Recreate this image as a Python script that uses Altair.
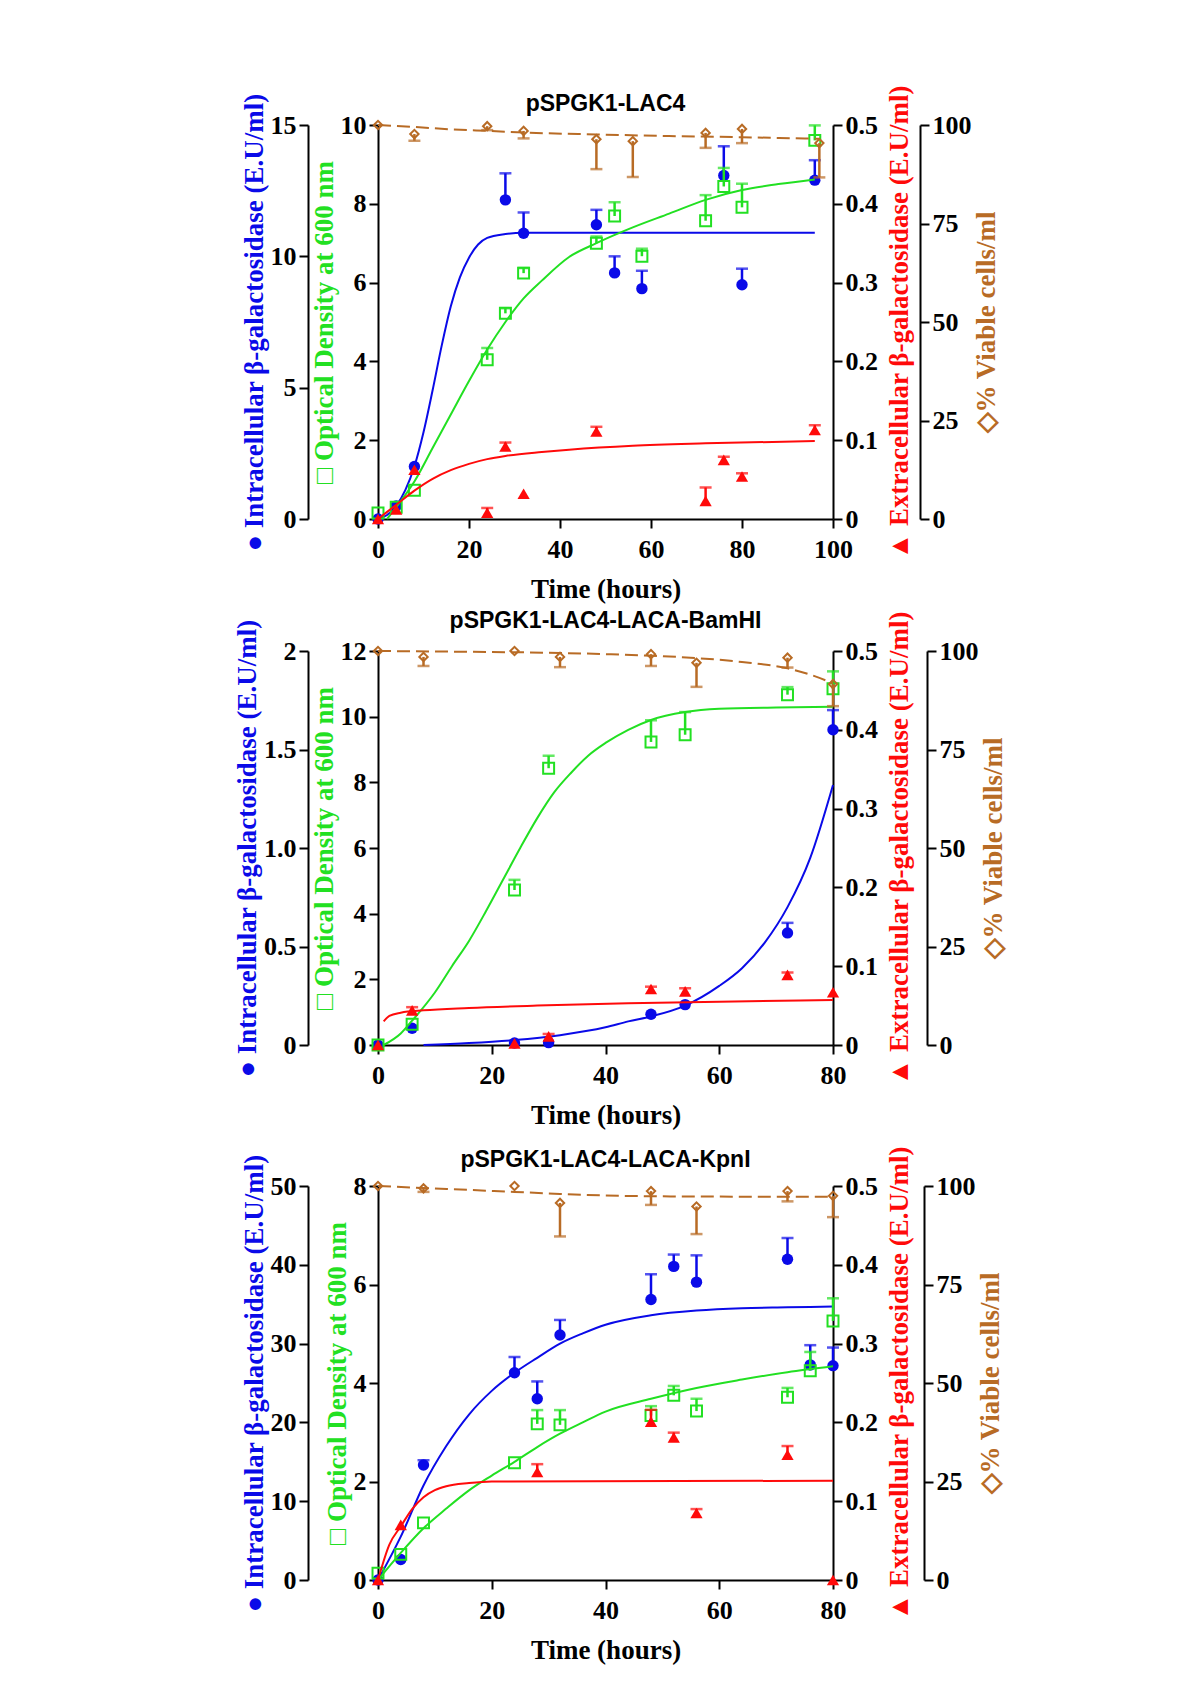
import altair as alt
import pandas as pd

# ---------------- Panel 1: pSPGK1-LAC4 ----------------
P1_TITLE = "pSPGK1-LAC4"
P1_XMAX = 100
P1_X_TICKS = [0, 20, 40, 60, 80, 100]
P1_BLUE_TICKS = [0, 5, 10, 15]
P1_GREEN_TICKS = [0, 2, 4, 6, 8, 10]

P1_BLUE_T = [0, 4, 8, 28, 32, 48, 52, 58, 76, 80, 96]
P1_BLUE = [0, 0.5, 2.0, 12.15, 10.88, 11.2, 9.37, 8.77, 13.08, 8.92, 12.9]
P1_BLUE_ERR = [None, None, None, 13.16, 11.67, 11.77, 10.0, 9.45, 14.19, 9.53, 13.66]
P1_BLUE_CT = [0, 2, 4, 6, 8, 10, 12, 14, 16, 18, 20, 22, 24, 28, 32, 96]
P1_BLUE_C = [0, 0.15, 0.5, 1.1, 2.0, 3.3, 4.9, 6.6, 8.1, 9.2, 9.95, 10.45, 10.7, 10.85, 10.9, 10.9]

P1_GREEN_T = [0, 4, 8, 24, 28, 32, 48, 52, 58, 72, 76, 80, 96]
P1_GREEN = [0.15, 0.3, 0.73, 4.04, 5.22, 6.24, 7.0, 7.69, 6.67, 7.57, 8.44, 7.91, 9.61]
P1_GREEN_ERR = [None, None, None, 4.34, 5.35, 6.37, 7.17, 8.04, 6.86, 8.22, 8.91, 8.51, 9.99]
P1_GREEN_CT = [2, 4, 8, 12, 16, 20, 24, 28, 32, 36, 42, 48, 56, 64, 72, 80, 88, 96]
P1_GREEN_C = [0, 0.3, 0.95, 1.8, 2.65, 3.5, 4.3, 5.0, 5.6, 6.05, 6.65, 7.0, 7.4, 7.75, 8.1, 8.35, 8.5, 8.62]

P1_RED_T = [0, 4, 8, 24, 28, 32, 48, 72, 76, 80, 96]
P1_RED = [0, 0.012, 0.0625, 0.008, 0.092, 0.032, 0.111, 0.023, 0.075, 0.054, 0.113]
P1_RED_ERR = [None, None, None, 0.014, 0.097, None, 0.117, 0.040, 0.079, 0.058, 0.119]
P1_RED_CT = [0, 4, 8, 12, 16, 20, 24, 28, 36, 42, 56, 72, 96]
P1_RED_C = [0, 0.018, 0.036, 0.051, 0.062, 0.07, 0.076, 0.08, 0.085, 0.088, 0.093, 0.096, 0.099]

P1_BROWN_T = [0, 8, 24, 32, 48, 56, 72, 80, 97]
P1_BROWN = [100, 97.7, 99.7, 98.5, 96.4, 95.9, 98.0, 99.0, 95.4]
P1_BROWN_ERR = [None, 96.0, 98.7, 96.6, 88.8, 86.8, 94.2, 95.4, 86.7]
P1_BROWN_CT = [0, 8, 16, 24, 32, 48, 64, 80, 97]
P1_BROWN_C = [100, 99.5, 98.9, 98.5, 98.1, 97.6, 97.2, 96.9, 96.5]

# ---------------- Panel 2: pSPGK1-LAC4-LACA-BamHI ----------------
P2_TITLE = "pSPGK1-LAC4-LACA-BamHI"
P2_XMAX = 80
P2_X_TICKS = [0, 20, 40, 60, 80]
P2_BLUE_TICKS = [0, 0.5, 1.0, 1.5, 2]
P2_GREEN_TICKS = [0, 2, 4, 6, 8, 10, 12]

P2_BLUE_T = [0, 6, 24, 30, 48, 54, 72, 80]
P2_BLUE = [0, 0.085, 0.01, 0.012, 0.156, 0.205, 0.569, 1.60]
P2_BLUE_ERR = [None, None, None, None, None, None, 0.62, 1.70]
P2_BLUE_CT = [8, 16, 24, 32, 40, 44, 48, 54, 60, 64, 68, 72, 76, 80]
P2_BLUE_C = [0, 0.01, 0.025, 0.05, 0.09, 0.12, 0.145, 0.2, 0.3, 0.39, 0.52, 0.7, 0.95, 1.32]

P2_GREEN_T = [0, 6, 24, 30, 48, 54, 72, 80]
P2_GREEN = [0, 0.63, 4.72, 8.43, 9.23, 9.45, 10.67, 10.85]
P2_GREEN_ERR = [None, None, 5.03, 8.81, 9.89, 10.14, 10.9, 11.38]
P2_GREEN_CT = [1, 4, 6, 10, 13, 16, 19, 22, 25, 28, 31, 34, 37, 40, 44, 48, 54, 60, 70, 80]
P2_GREEN_C = [0, 0.35, 0.74, 1.6, 2.4, 3.17, 4.08, 5.04, 6.0, 6.91, 7.7, 8.3, 8.82, 9.2, 9.6, 9.9, 10.14, 10.24, 10.28, 10.3]

P2_RED_T = [0, 6, 24, 30, 48, 54, 72, 80]
P2_RED = [0, 0.044, 0.002, 0.011, 0.071, 0.068, 0.089, 0.067]
P2_RED_ERR = [None, 0.048, None, 0.014, 0.074, 0.072, 0.092, None]
P2_RED_CT = [1, 2, 4, 8, 16, 28, 44, 60, 80]
P2_RED_C = [0.03, 0.037, 0.041, 0.044, 0.047, 0.05, 0.053, 0.055, 0.057]

P2_BROWN_T = [0, 8, 24, 32, 48, 56, 72, 80]
P2_BROWN = [100, 98.5, 100, 98.5, 99.2, 97.0, 98.3, 91.6]
P2_BROWN_ERR = [None, 96.2, None, 95.9, 96.2, 90.9, 95.8, 86.0]
P2_BROWN_CT = [0, 16, 32, 40, 48, 56, 64, 72, 76, 80]
P2_BROWN_C = [100, 99.8, 99.5, 99.2, 98.8, 98.2, 97.2, 95.6, 94.0, 91.8]

# ---------------- Panel 3: pSPGK1-LAC4-LACA-KpnI ----------------
P3_TITLE = "pSPGK1-LAC4-LACA-KpnI"
P3_XMAX = 80
P3_X_TICKS = [0, 20, 40, 60, 80]
P3_BLUE_TICKS = [0, 10, 20, 30, 40, 50]
P3_GREEN_TICKS = [0, 2, 4, 6, 8]

P3_BLUE_T = [0, 4, 8, 24, 28, 32, 48, 52, 56, 72, 76, 80]
P3_BLUE = [0, 2.6, 14.6, 26.3, 23.0, 31.1, 35.6, 39.8, 37.8, 40.7, 27.3, 27.2]
P3_BLUE_ERR = [None, None, 15.2, 28.3, 25.2, 33.0, 38.8, 41.3, 41.2, 43.4, 29.8, 29.5]
P3_BLUE_CT = [0, 4, 8, 12, 16, 20, 24, 28, 32, 36, 40, 48, 56, 64, 72, 80]
P3_BLUE_C = [0, 5.5, 12.0, 17.0, 21.0, 24.0, 26.3, 28.2, 30.0, 31.3, 32.4, 33.6, 34.2, 34.5, 34.6, 34.7]

P3_GREEN_T = [0, 4, 8, 24, 28, 32, 48, 52, 56, 72, 76, 80]
P3_GREEN = [0.14, 0.52, 1.16, 2.38, 3.17, 3.15, 3.34, 3.75, 3.43, 3.71, 4.25, 5.26]
P3_GREEN_ERR = [None, None, None, None, 3.45, 3.45, 3.53, 3.94, 3.68, 3.90, 4.63, 5.72]
P3_GREEN_CT = [0, 4, 8, 12, 16, 20, 24, 28, 32, 36, 40, 48, 56, 64, 72, 80]
P3_GREEN_C = [0, 0.55, 1.05, 1.45, 1.82, 2.12, 2.4, 2.7, 2.97, 3.2, 3.42, 3.68, 3.9, 4.07, 4.22, 4.34]

P3_RED_T = [0, 4, 28, 48, 52, 56, 72, 80]
P3_RED = [0, 0.07, 0.137, 0.201, 0.181, 0.085, 0.159, 0]
P3_RED_ERR = [None, None, 0.147, 0.216, 0.187, 0.09, 0.17, None]
P3_RED_CT = [0, 2, 4, 6, 8, 10, 12, 16, 20, 80]
P3_RED_C = [0, 0.045, 0.068, 0.09, 0.105, 0.114, 0.119, 0.123, 0.125, 0.126]

P3_BROWN_T = [0, 8, 24, 32, 48, 56, 72, 80]
P3_BROWN = [100, 99.4, 100, 95.7, 98.7, 94.8, 98.7, 97.5]
P3_BROWN_ERR = [None, 98.5, None, 87.2, 95.2, 87.8, 96.1, 92.1]
P3_BROWN_CT = [0, 8, 16, 24, 32, 40, 48, 64, 80]
P3_BROWN_C = [100, 99.5, 99.0, 98.5, 98.0, 97.6, 97.4, 97.3, 97.3]

# common axis ticks
RED_TICKS = [0, 0.1, 0.2, 0.3, 0.4, 0.5]
BROWN_TICKS = [0, 25, 50, 75, 100]

BLUE = "#0a0ae8"
GREEN = "#22e022"
RED = "#ff0a0a"
BROWN = "#b86b25"

SERIF = "Liberation Serif"
SANS = "Liberation Sans"

BLUE_TITLE = "\u25cf Intracellular \u03b2-galactosidase (E.U/ml)"
GREEN_TITLE = "\u25a1 Optical Density at 600 nm"
RED_TITLE = "\u25b2 Extracellular \u03b2-galactosidase (E.U/ml)"
BROWN_TITLE = "\u25c7% Viable cells/ml"

PANEL_W = 455
PANEL_H = 394


def yaxis(title, color, values, orient, offset, title_pad=2, label_expr=None):
    kw = dict(
        title=title, titleColor=color, orient=orient, offset=offset, values=values,
        titleFont=SERIF, titleFontSize=27, titleFontWeight="bold",
        labelFont=SERIF, labelFontSize=26, labelFontWeight="bold", labelColor="black",
        domainColor="black", domainWidth=2, tickColor="black", tickWidth=2, tickSize=9,
        labelPadding=3, titlePadding=title_pad, grid=False, labelOverlap=False,
        labelFlush=False,
        labelExpr=label_expr if label_expr else "format(datum.value, '~g')",
    )
    if orient == "right":
        kw["titleAngle"] = 270
        kw["titleBaseline"] = "top"
    return alt.Axis(**kw)


def xaxis(values):
    return alt.Axis(
        values=values, title="Time (hours)", titleFont=SERIF, titleFontSize=27,
        titleFontWeight="bold", titleColor="black", labelFont=SERIF, labelFontSize=26,
        labelFontWeight="bold", labelColor="black", domainColor="black", domainWidth=2,
        tickColor="black", tickWidth=2, tickSize=9, labelPadding=8, titlePadding=14,
        grid=False, labelFlush=False, labelOverlap=False, format="d",
    )


def series(t, v, err, ct, cv, color, shape, filled, size, domain, axis, xmax, x_axis,
           dash=None):
    pts = pd.DataFrame({"t": t, "v": v})
    keep = [i for i, e in enumerate(err) if e is not None]
    eb = pd.DataFrame({"t": [t[i] for i in keep], "v": [v[i] for i in keep],
                       "e": [err[i] for i in keep]})
    cur = pd.DataFrame({"t": ct, "v": cv})
    xsc = alt.Scale(domain=[0, xmax], nice=False, zero=False)
    ysc = alt.Scale(domain=domain, nice=False, zero=False)
    X = alt.X("t:Q", scale=xsc, axis=x_axis)
    line_kw = dict(color=color, strokeWidth=2, interpolate="monotone")
    if dash:
        line_kw["strokeDash"] = dash
    line = alt.Chart(cur).mark_line(**line_kw).encode(
        x=X, y=alt.Y("v:Q", scale=ysc, axis=axis),
    )
    rule = alt.Chart(eb).mark_rule(color=color, strokeWidth=2.5).encode(
        x=X, y=alt.Y("v:Q", scale=ysc, axis=axis), y2="e:Q",
    )
    cap = alt.Chart(eb).mark_tick(color=color, orient="horizontal", size=12,
                                  thickness=2.5).encode(
        x=X, y=alt.Y("e:Q", scale=ysc, axis=axis),
    )
    pt = alt.Chart(pts).mark_point(shape=shape, filled=filled, size=size, color=color,
                                   strokeWidth=2, opacity=1).encode(
        x=X, y=alt.Y("v:Q", scale=ysc, axis=axis),
    )
    return alt.layer(line, rule, cap, pt)


def panel(title, title_y, xmax, xticks, blue_ticks, blue_max, green_ticks, green_max,
          B, G, R, W, blue_expr=None, brown_offset=90, spacer=None):
    xa = xaxis(xticks)
    blue = series(*B, BLUE, "circle", True, 130, [0, blue_max],
                  yaxis(BLUE_TITLE, BLUE, blue_ticks, "left", 70, 2, blue_expr),
                  xmax, xa)
    green = series(*G, GREEN, "square", False, 120, [0, green_max],
                   yaxis(GREEN_TITLE, GREEN, green_ticks, "left", 0, 2), xmax, xa)
    red = series(*R, RED, "triangle-up", True, 150, [0, 0.5],
                 yaxis(RED_TITLE, RED, RED_TICKS, "right", 0, 9), xmax, xa)
    brown = series(*W, BROWN, "diamond", False, 70, [0, 100],
                   yaxis(BROWN_TITLE, BROWN, BROWN_TICKS, "right", brown_offset, 2),
                   xmax, xa, dash=[13, 6])
    head = alt.Chart(pd.DataFrame({"label": [title]})).mark_text(
        font=SANS, fontSize=23, fontWeight="bold", color="black",
        align="center", baseline="middle",
    ).encode(text="label:N", x=alt.value(PANEL_W / 2), y=alt.value(title_y))
    layers = [blue, green, red, brown, head]
    if spacer:
        # invisible layout spacer that adds room below this panel
        layers.append(
            alt.Chart(pd.DataFrame({"k": [0]})).mark_text(
                text=".", opacity=0, fontSize=2, baseline="top"
            ).encode(x=alt.value(0), y=alt.value(PANEL_H + spacer))
        )
    return alt.layer(*layers).resolve_scale(y="independent").properties(
        width=PANEL_W, height=PANEL_H,
    )


p1 = panel(P1_TITLE, -21, P1_XMAX, P1_X_TICKS, P1_BLUE_TICKS, 15, P1_GREEN_TICKS, 10,
           (P1_BLUE_T, P1_BLUE, P1_BLUE_ERR, P1_BLUE_CT, P1_BLUE_C),
           (P1_GREEN_T, P1_GREEN, P1_GREEN_ERR, P1_GREEN_CT, P1_GREEN_C),
           (P1_RED_T, P1_RED, P1_RED_ERR, P1_RED_CT, P1_RED_C),
           (P1_BROWN_T, P1_BROWN, P1_BROWN_ERR, P1_BROWN_CT, P1_BROWN_C),
           brown_offset=87)
p2 = panel(P2_TITLE, -30, P2_XMAX, P2_X_TICKS, P2_BLUE_TICKS, 2, P2_GREEN_TICKS, 12,
           (P2_BLUE_T, P2_BLUE, P2_BLUE_ERR, P2_BLUE_CT, P2_BLUE_C),
           (P2_GREEN_T, P2_GREEN, P2_GREEN_ERR, P2_GREEN_CT, P2_GREEN_C),
           (P2_RED_T, P2_RED, P2_RED_ERR, P2_RED_CT, P2_RED_C),
           (P2_BROWN_T, P2_BROWN, P2_BROWN_ERR, P2_BROWN_CT, P2_BROWN_C),
           blue_expr="datum.value == 1 ? '1.0' : format(datum.value, '~g')",
           brown_offset=94, spacer=90)
p3 = panel(P3_TITLE, -26, P3_XMAX, P3_X_TICKS, P3_BLUE_TICKS, 50, P3_GREEN_TICKS, 8,
           (P3_BLUE_T, P3_BLUE, P3_BLUE_ERR, P3_BLUE_CT, P3_BLUE_C),
           (P3_GREEN_T, P3_GREEN, P3_GREEN_ERR, P3_GREEN_CT, P3_GREEN_C),
           (P3_RED_T, P3_RED, P3_RED_ERR, P3_RED_CT, P3_RED_C),
           (P3_BROWN_T, P3_BROWN, P3_BROWN_ERR, P3_BROWN_CT, P3_BROWN_C),
           brown_offset=91)

chart = alt.vconcat(p1, p2, p3, spacing=8).properties(
    padding={"left": 225, "top": 76, "right": 10, "bottom": 10},
    background="white",
).configure_view(stroke=None)

chart.save("out.html", embed_options={"renderer": "svg", "actions": False})
